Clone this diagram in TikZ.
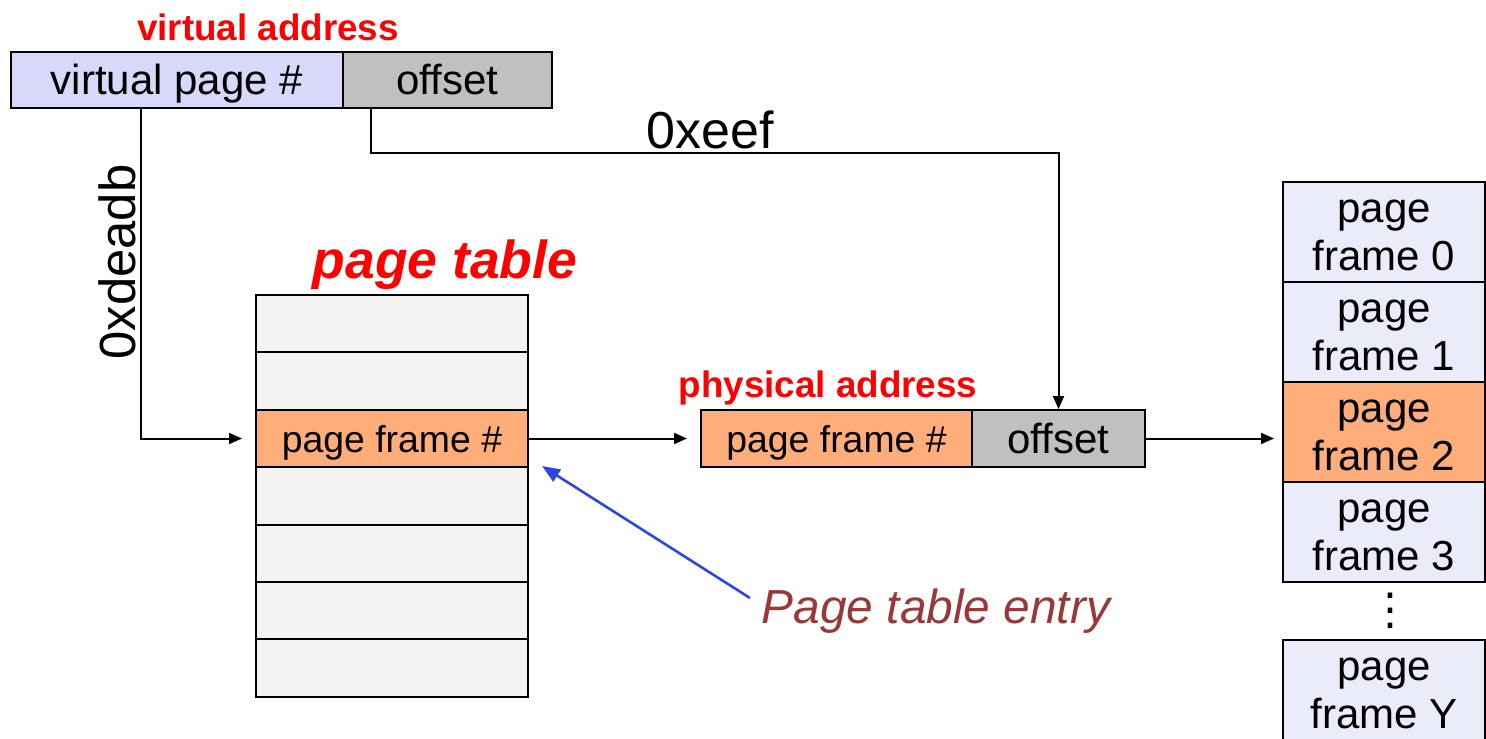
\documentclass[tikz,border=0pt]{standalone}
\usepackage{fontspec}
\setmainfont{Liberation Sans}
\newfontfamily\dejavu{DejaVu Sans}
\usetikzlibrary{arrows.meta}
\definecolor{vpncol}{HTML}{D8D8FA}
\definecolor{framecol}{HTML}{EBECFA}
\definecolor{rowcol}{HTML}{F5F4F2}
\definecolor{pfncol}{HTML}{FFAD7A}
\definecolor{offcol}{HTML}{C0C0C0}
\definecolor{titlered}{HTML}{FF0000}
\definecolor{notecol}{HTML}{993838}
\definecolor{pointer}{HTML}{2E46E0}
\newcommand{\firstline}{\rule{0pt}{15.3pt}}
\tikzset{
  cell/.style={draw=black, line width=1pt, inner sep=0pt, text height=18.5pt, text depth=3.5pt,
               font=\fontsize{21}{24}\selectfont},
  small/.style={font=\fontsize{18.7}{22}\selectfont, text height=17.4pt, text depth=3.2pt},
  frame/.style={draw=black, line width=1pt, inner sep=0pt, fill=framecol,
                minimum width=101pt, minimum height=50pt, align=center,
                font=\fontsize{21}{24.15}\selectfont},
  trow/.style={cell, small, fill=rowcol, minimum width=136pt, minimum height=28.7pt},
  title/.style={text=titlered, font=\fontsize{18.4}{20}\selectfont\bfseries},
  arr/.style={line width=1pt, -{Triangle[length=6.5pt,width=5.5pt]}},
}
\begin{document}
\begin{tikzpicture}[x=0.5pt, y=-0.5pt]
\useasboundingbox (0,0) rectangle (1486,738);
\clip (0,0) rectangle (1486,738);

% virtual address
\node[title] (vatitle) at (268,27) {virtual address};
\node[cell, fill=vpncol, minimum width=166pt, minimum height=28pt] (vpn) at (177,80) {virtual page \#};
\node[cell, fill=offcol, minimum width=104.5pt, minimum height=28pt] (voff) at (447.5,80) {offset};

% page table
\node[text=titlered, font=\fontsize{26.7}{28}\selectfont\bfseries\itshape] (pttitle) at (445,265) {page table};
\node[trow] (r1) at (392,323.7) {};
\node[trow] (r2) at (392,381.1) {};
\node[trow, fill=pfncol] (r3) at (392,438.5) {page frame \#};
\node[trow] (r4) at (392,495.9) {};
\node[trow] (r5) at (392,553.3) {};
\node[trow] (r6) at (392,610.7) {};
\node[trow] (r7) at (392,668.1) {};

% physical address
\node[title] (patitle) at (828,388) {physical address};
\node[cell, small, fill=pfncol, minimum width=135.5pt, minimum height=28.5pt] (pfn) at (836.5,438.5) {page frame \#};
\node[cell, fill=offcol, minimum width=86.5pt, minimum height=28.5pt] (poff) at (1058.5,438.5) {offset};

% physical memory
\node[frame] (f0) at (1384,231.5) {\firstline page\\frame 0};
\node[frame] (f1) at (1384,331.5) {\firstline page\\frame 1};
\node[frame, fill=pfncol] (f2) at (1384,431.5) {\firstline page\\frame 2};
\node[frame] (f3) at (1384,531.5) {\firstline page\\frame 3};
\node[font=\dejavu\fontsize{22}{24}\selectfont] (dots) at (1390,611) {⋮};
\node[frame] (fy) at (1384,689.5) {\firstline page\\frame Y};

% connectors
\coordinate (vpnout) at (141,108);
\coordinate (offout) at (371,108);
\draw[arr, shorten >=6.5pt] (vpnout) |- (r3.west);
\node[rotate=90, font=\fontsize{25.4}{27}\selectfont] (vpnval) at (117,262) {0xdeadb};
\draw[arr] (offout) -- ++(0,45) -| (poff.north);
\node[font=\fontsize{26}{28}\selectfont] (offval) at (710,130) {0xeef};
\draw[arr, shorten >=6.5pt] (r3.east) -- (pfn.west);
\draw[arr, shorten >=4pt] (poff.east) -- (f2.west |- poff.east);

% annotation
\node[text=notecol, font=\fontsize{23.9}{26}\selectfont\itshape] (pte) at (936,611) {Page table entry};
\coordinate (ptetail) at (750,598);
\coordinate (ptehead) at (542,466);
\draw[pointer, line width=1.3pt, -{Triangle[length=9pt,width=7pt]}] (ptetail) -- (ptehead);
\end{tikzpicture}
\end{document}
